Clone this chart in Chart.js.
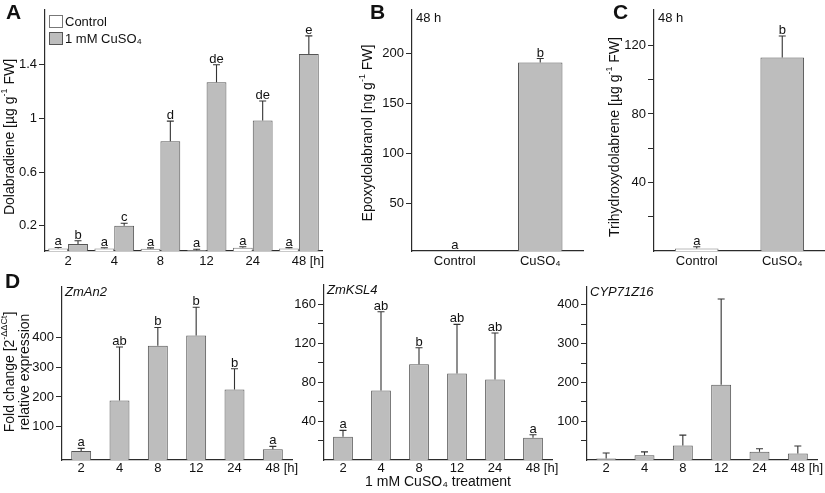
<!DOCTYPE html>
<html>
<head>
<meta charset="utf-8">
<script src="https://cdn.jsdelivr.net/npm/chart.js@4.4.1/dist/chart.umd.min.js"></script>
<style>
  body { margin: 0; background: #fff; }
  #figure { position: relative; width: 825px; height: 493px; overflow: hidden; background: #fff; }
  #figure canvas { position: absolute; }
</style>
</head>
<body>
<div id="figure">
  <canvas id="panelA" width="330" height="270" style="left:0;top:0"></canvas>
  <canvas id="panelB" width="255" height="270" style="left:330px;top:0"></canvas>
  <canvas id="panelC" width="240" height="270" style="left:585px;top:0"></canvas>
  <canvas id="panelD1" width="300" height="223" style="left:0;top:270px"></canvas>
  <canvas id="panelD2" width="268" height="223" style="left:295px;top:270px"></canvas>
  <canvas id="panelD3" width="268" height="223" style="left:557px;top:270px"></canvas>
</div>
<script>
var hours = ['2', '4', '8', '12', '24', '48']
var treatments = ['Control', 'CuSO₄']

// A: dolabradiene [µg g-1 FW]
var dolaControl = [0.03, 0.03, 0.028, 0.018, 0.035, 0.03]
var dolaControlErr = [0.008, 0.006, 0.007, 0.007, 0.008, 0.007]
var dolaControlLetters = ['a', 'a', 'a', 'a', 'a', 'a']
var dolaCu = [0.063, 0.2, 0.83, 1.27, 0.985, 1.48]
var dolaCuErr = [0.025, 0.018, 0.15, 0.13, 0.145, 0.135]
var dolaCuLetters = ['b', 'c', 'd', 'de', 'de', 'e']
var dolaTicks = [0.2, 0.6, 1, 1.4]

// B: epoxydolabranol [ng g-1 FW], 48 h
var epoxyValues = [null, 191]
var epoxyErr = [0, 4]
var epoxyLetters = ['a', 'b']
var epoxyTicks = [50, 100, 150, 200]

// C: trihydroxydolabrene [µg g-1 FW], 48 h
var trihydroxyValues = [1.5, 113]
var trihydroxyErr = [1, 12.5]
var trihydroxyLetters = ['a', 'b']
var trihydroxyTicks = [20, 40, 60, 80, 100, 120]
var trihydroxyTickLabels = [40, 80, 120]

// D: fold change relative expression
var an2Values = [18, 188, 372, 407, 225, 24]
var an2Err = [9, 180, 62, 95, 70, 10]
var an2Letters = ['a', 'ab', 'b', 'b', 'b', 'a']
var an2Ticks = [100, 200, 300, 400]

var ksl4Values = [24, 71.5, 98.5, 89, 82.7, 23]
var ksl4Err = [6.5, 81, 17, 50.5, 48, 3]
var ksl4Letters = ['a', 'ab', 'b', 'ab', 'ab', 'a']
var ksl4Ticks = [20, 40, 60, 80, 100, 120, 140, 160]
var ksl4TickLabels = [40, 80, 120, 160]

var cypValues = [4, 12, 37.5, 194, 21, 17]
var cypErr = [14, 9, 26.5, 221, 8, 19]
var cypTicks = [50, 100, 150, 200, 250, 300, 350, 400]
var cypTickLabels = [100, 200, 300, 400]

var FONT = '"Liberation Sans", Arial, Helvetica, sans-serif'
var INK = '#111'
var LINE = '#2b2b2b'
var BAR = '#bdbdbd'
var BAR_EDGE = '#555'

Chart.defaults.font.family = FONT
Chart.defaults.font.size = 13
Chart.defaults.color = INK

// text with optional super/subscript pieces: [[text, 'sup'|'sub'|null], ...]
function drawRich (ctx, parts, size, style, align) {
  function fontFor (kind) {
    var s = kind ? Math.round(size * 0.62) : size
    return (style ? style + ' ' : '') + s + 'px ' + FONT
  }
  var total = 0
  parts.forEach(function (p) {
    ctx.font = fontFor(p[1])
    total += ctx.measureText(p[0]).width
  })
  var x = align === 'left' ? 0 : -total / 2
  parts.forEach(function (p) {
    ctx.font = fontFor(p[1])
    var dy = p[1] === 'sup' ? -size * 0.36 : (p[1] === 'sub' ? size * 0.25 : 0)
    ctx.fillText(p[0], x, dy)
    x += ctx.measureText(p[0]).width
  })
}

function notes (items) {
  return {
    id: 'notes',
    afterDraw: function (chart) {
      var ctx = chart.ctx
      items.forEach(function (it) {
        ctx.save()
        ctx.fillStyle = INK
        ctx.textAlign = 'left'
        ctx.textBaseline = 'middle'
        ctx.translate(it.x, it.y)
        if (it.rotate) ctx.rotate(-Math.PI / 2)
        drawRich(ctx, it.parts, it.size || 14, it.style || '', it.align)
        ctx.restore()
      })
    }
  }
}

// legend boxes inside the plot, one row per dataset
function boxLegend (left, top, step) {
  return {
    id: 'boxLegend',
    afterDraw: function (chart) {
      var ctx = chart.ctx
      chart.data.datasets.forEach(function (ds, i) {
        var y = top + i * step
        ctx.save()
        ctx.fillStyle = ds.backgroundColor
        ctx.fillRect(left, y, 14, 13)
        ctx.strokeStyle = ds.borderColor
        ctx.lineWidth = 1
        ctx.strokeRect(left + 0.5, y + 0.5, 13, 12)
        ctx.fillStyle = INK
        ctx.font = '13px ' + FONT
        ctx.textAlign = 'left'
        ctx.textBaseline = 'middle'
        ctx.fillText(ds.label, left + 16, y + 7)
        ctx.restore()
      })
    }
  }
}

// error bars (upper half) and significance letters
var errorBars = {
  id: 'errorBars',
  afterDatasetsDraw: function (chart) {
    var ctx = chart.ctx
    var y = chart.scales.y
    chart.data.datasets.forEach(function (ds, i) {
      var meta = chart.getDatasetMeta(i)
      meta.data.forEach(function (bar, j) {
        var v = ds.data[j] == null ? y.min : ds.data[j]
        var err = ds.errors ? ds.errors[j] : 0
        var top = y.getPixelForValue(Math.max(v, y.min))
        var cap = y.getPixelForValue(Math.max(v + err, y.min))
        ctx.save()
        if (err) {
          ctx.strokeStyle = '#333'
          ctx.lineWidth = 1.1
          ctx.beginPath()
          ctx.moveTo(bar.x, top)
          ctx.lineTo(bar.x, cap)
          ctx.moveTo(bar.x - 3.5, cap)
          ctx.lineTo(bar.x + 3.5, cap)
          ctx.stroke()
        }
        if (ds.letters) {
          ctx.fillStyle = INK
          ctx.font = '13px ' + FONT
          ctx.textAlign = 'center'
          ctx.textBaseline = 'alphabetic'
          ctx.fillText(ds.letters[j], bar.x, cap - 2)
        }
        ctx.restore()
      })
    })
  }
}

// "[h]" after the last time point
var hourSuffix = {
  id: 'hourSuffix',
  afterDraw: function (chart) {
    var xs = chart.scales.x
    var n = chart.data.labels.length
    var last = chart.data.labels[n - 1]
    var ctx = chart.ctx
    ctx.save()
    ctx.font = '13px ' + FONT
    ctx.fillStyle = INK
    ctx.textAlign = 'left'
    ctx.textBaseline = 'middle'
    var x = xs.getPixelForTick(n - 1) - ctx.measureText(last).width / 2 + ctx.measureText(last + ' ').width
    ctx.fillText('[h]', x, xs.top + xs.options.ticks.padding + 7.8)
    ctx.restore()
  }
}

function valueAxis (p) {
  var shown = p.tickLabels || p.ticks
  return {
    min: p.range[0],
    max: p.range[1],
    afterBuildTicks: function (scale) {
      scale.ticks = p.ticks.map(function (v) { return { value: v } })
    },
    afterFit: function (scale) { scale.width = p.yWidth },
    ticks: {
      autoSkip: false,
      padding: 2,
      color: INK,
      font: { size: 13 },
      callback: function (v) { return shown.indexOf(v) >= 0 ? String(v) : '' }
    },
    grid: { drawOnChartArea: false, drawTicks: true, tickLength: 6, tickColor: LINE, tickWidth: 1 },
    border: { display: true, color: LINE, width: 1.2 }
  }
}

function categoryAxis (p) {
  var axis = {
    afterFit: function (scale) { scale.height = p.xHeight },
    ticks: { padding: p.xPad, color: INK, font: { size: 13 }, maxRotation: 0, autoSkip: false },
    grid: { display: false, drawTicks: false },
    border: { display: true, color: LINE, width: 1.2 }
  }
  if (p.xTitle) {
    axis.title = { display: true, text: p.xTitle, color: INK, font: { size: 14 }, padding: { top: 0, bottom: 2.5 } }
  }
  return axis
}

function bars (label, data, errors, letters, fill, edge, p) {
  return {
    label: label,
    data: data,
    errors: errors,
    letters: letters,
    base: p.range[0],
    backgroundColor: fill,
    borderColor: edge,
    borderWidth: 1,
    barPercentage: p.barPct,
    categoryPercentage: p.catPct
  }
}

function makePanel (id, p) {
  var plugins = [errorBars, notes(p.notes)]
  if (p.hours) plugins.push(hourSuffix)
  if (p.legendAt) plugins.push(boxLegend(p.legendAt[0], p.legendAt[1], p.legendAt[2]))
  return new Chart(document.getElementById(id), {
    type: 'bar',
    data: { labels: p.labels, datasets: p.datasets },
    options: {
      responsive: false,
      animation: false,
      layout: { padding: p.padding },
      plugins: {
        legend: { display: false },
        tooltip: { enabled: false }
      },
      scales: { x: categoryAxis(p), y: valueAxis(p) }
    },
    plugins: plugins
  })
}

var SUP = 'sup'

// ---- A
var pA = { range: [0.0115, 1.808], ticks: dolaTicks, yWidth: 45, xHeight: 19, xPad: 3,
  padding: { top: 10, right: 8, left: 0, bottom: 0 }, barPct: 1, catPct: 0.86, hours: true, labels: hours,
  legendAt: [49, 15, 17] }
pA.datasets = [
  bars('Control', dolaControl, dolaControlErr, dolaControlLetters, '#ffffff', '#777', pA),
  bars('1 mM CuSO₄', dolaCu, dolaCuErr, dolaCuLetters, BAR, BAR_EDGE, pA)
]
pA.notes = [
  { x: 6, y: 13, parts: [['A']], size: 21, style: 'bold', align: 'left' },
  { x: 10, y: 137, rotate: true, parts: [['Dolabradiene [µg g'], ['-1', SUP], [' FW]']] }
]
makePanel('panelA', pA)

// ---- B
var pB = { range: [2.5, 243.5], ticks: epoxyTicks, yWidth: 82, xHeight: 19, xPad: 3,
  padding: { top: 10, right: 2, left: 0, bottom: 0 }, barPct: 0.52, catPct: 1, labels: treatments }
pB.datasets = [bars('48 h', epoxyValues, epoxyErr, epoxyLetters, BAR, BAR_EDGE, pB)]
pB.notes = [
  { x: 40, y: 13, parts: [['B']], size: 21, style: 'bold', align: 'left' },
  { x: 86, y: 18, parts: [['48 h']], size: 13, align: 'left' },
  { x: 38, y: 133, rotate: true, parts: [['Epoxydolabranol [ng g'], ['-1', SUP], [' FW]']] }
]
makePanel('panelB', pB)

// ---- C
var pC = { range: [0, 140.7], ticks: trihydroxyTicks, tickLabels: trihydroxyTickLabels, yWidth: 69, xHeight: 19, xPad: 3,
  padding: { top: 10, right: 0, left: 0, bottom: 0 }, barPct: 0.51, catPct: 1, labels: treatments }
pC.datasets = [bars('48 h', trihydroxyValues, trihydroxyErr, trihydroxyLetters, ['#ffffff', BAR], ['#777', BAR_EDGE], pC)]
pC.notes = [
  { x: 28, y: 13, parts: [['C']], size: 21, style: 'bold', align: 'left' },
  { x: 73, y: 18, parts: [['48 h']], size: 13, align: 'left' },
  { x: 30, y: 137, rotate: true, parts: [['Trihydroxydolabrene [µg g'], ['-1', SUP], [' FW]']] }
]
makePanel('panelC', pC)

// ---- D: ZmAn2
var pD1 = { range: [-12, 570], ticks: an2Ticks, yWidth: 62, xHeight: 33, xPad: 1,
  padding: { top: 17, right: 8, left: 0, bottom: 0 }, barPct: 0.52, catPct: 1, hours: true, labels: hours }
pD1.datasets = [bars('ZmAn2', an2Values, an2Err, an2Letters, BAR, BAR_EDGE, pD1)]
pD1.notes = [
  { x: 5, y: 12, parts: [['D']], size: 21, style: 'bold', align: 'left' },
  { x: 65, y: 22, parts: [['ZmAn2']], size: 13, style: 'italic', align: 'left' },
  { x: 10, y: 102, rotate: true, parts: [['Fold change [2'], ['-ΔΔCt', SUP], [']']] },
  { x: 25, y: 102, rotate: true, parts: [['relative expression']] }
]
makePanel('panelD1', pD1)

// ---- D: ZmKSL4
var pD2 = { range: [0, 180], ticks: ksl4Ticks, tickLabels: ksl4TickLabels, yWidth: 29, xHeight: 33, xPad: 1,
  padding: { top: 15, right: 11, left: 0, bottom: 0 }, barPct: 0.52, catPct: 1, hours: true, labels: hours,
  xTitle: '1 mM CuSO₄ treatment' }
pD2.datasets = [bars('ZmKSL4', ksl4Values, ksl4Err, ksl4Letters, BAR, BAR_EDGE, pD2)]
pD2.notes = [
  { x: 32, y: 20, parts: [['ZmKSL4']], size: 13, style: 'italic', align: 'left' }
]
makePanel('panelD2', pD2)

// ---- D: CYP71Z16
var pD3 = { range: [0, 446], ticks: cypTicks, tickLabels: cypTickLabels, yWidth: 30, xHeight: 33, xPad: 1,
  padding: { top: 17, right: 8, left: 0, bottom: 0 }, barPct: 0.52, catPct: 1, hours: true, labels: hours }
pD3.datasets = [bars('CYP71Z16', cypValues, cypErr, null, BAR, BAR_EDGE, pD3)]
pD3.notes = [
  { x: 33, y: 22, parts: [['CYP71Z16']], size: 13, style: 'italic', align: 'left' }
]
makePanel('panelD3', pD3)
</script>
</body>
</html>
